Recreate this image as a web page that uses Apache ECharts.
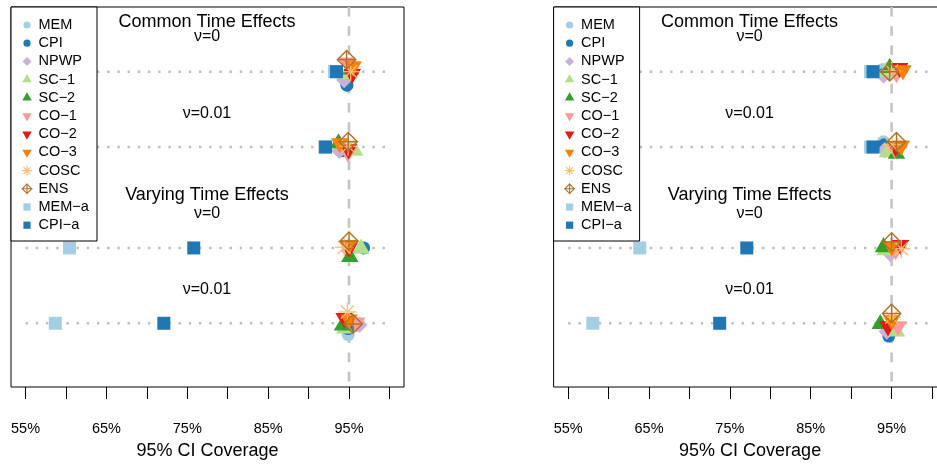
<!DOCTYPE html>
<html>
<head>
<meta charset="utf-8">
<script src="https://cdn.jsdelivr.net/npm/echarts@6/dist/echarts.min.js"></script>
<style>html,body{margin:0;padding:0;background:#fff}#c{width:937px;height:466px}</style>
</head>
<body>
<div id="c"></div>
<script>
// ---------------- data ----------------
const methods = ['MEM','CPI','NPWP','SC−1','SC−2','CO−1','CO−2','CO−3','COSC','ENS','MEM−a','CPI−a'];
const colors  = ['#A6CEE3','#1F78B4','#CAB2D6','#B2DF8A','#33A02C','#FB9A99','#E31A1C','#FF7F00','#FDBF6F','#B0702A','#A6CEE3','#1F78B4'];
const shapes  = ['circle','circle','diamond','triUp','triUp','triDown','triDown','triDown','asterisk','ens','square','square'];
const groupTitles = ['Common Time Effects','Varying Time Effects'];
const rowLabels = ['ν=0','ν=0.01','ν=0','ν=0.01'];
const rowPos = [1, 2, 3.34, 4.34];
const xTicks = [55,60,65,70,75,80,85,90,95,100];
const xLabels = [55,65,75,85,95];
const nominal = 95;

// coverage (%) per row, in method order
const leftCov1 = [94.7, 94.75, 94.4, 94.8, 95.2, 94.75, 95.4, 95.5, 95.2, 94.7, 93.2, 93.45];
const leftCov2 = [94.1, 94.1, 93.8, 95.7, 93.7, 94.85, 94.95, 93.85, 94.9, 94.9, 92.0, 92.1];
const leftCov3 = [96.8, 96.8, 95.0, 96.5, 95.1, 95.0, 95.0, 95.0, 94.4, 95.0, 60.44, 75.8];
const leftCov4 = [94.9, 94.9, 96.3, 94.5, 94.2, 95.95, 94.4, 95.0, 94.8, 95.5, 58.68, 72.1];
const rightCov1 = [93.9, 94.1, 94.0, 94.3, 94.77, 95.6, 96.0, 96.4, 95.0, 94.77, 92.4, 92.7];
const rightCov2 = [94.0, 94.1, 94.15, 94.5, 95.6, 95.4, 95.5, 96.2, 95.05, 95.6, 92.4, 92.7];
const rightCov3 = [94.9, 94.9, 94.85, 94.2, 94.0, 95.5, 96.1, 95.0, 96.2, 95.0, 63.86, 77.09];
const rightCov4 = [94.7, 94.65, 94.4, 95.6, 93.6, 95.8, 94.55, 95.0, 95.0, 95.0, 58.05, 73.74];

// vertical jitter of the points (row units)
const leftJit1 = [0.16, 0.18, 0.11, 0.03, -0.03, -0.12, 0.03, -0.07, 0, -0.16, 0, 0];
const leftJit2 = [0.04, 0.05, 0.05, 0.05, -0.05, 0.07, 0.03, -0.05, -0.01, -0.07, 0, 0];
const leftJit3 = [0, 0, 0.04, 0.01, 0.12, -0.01, 0, -0.04, -0.01, -0.09, 0, 0];
const leftJit4 = [0.15, 0.07, 0.02, 0.07, 0.03, -0.01, -0.07, -0.05, -0.15, 0.01, 0, 0];
const rightJit1 = [-0.03, 0.03, 0.05, 0, -0.05, 0.02, -0.05, -0.02, -0.01, 0, 0, 0];
const rightJit2 = [-0.07, -0.03, 0.04, 0.07, 0.09, 0.02, 0, -0.02, -0.03, -0.07, 0, 0];
const rightJit3 = [0.04, 0.05, 0.08, 0.03, -0.01, 0.03, -0.04, -0.02, 0.01, -0.08, 0, 0];
const rightJit4 = [0.13, 0.17, 0.11, 0.11, 0.01, 0.04, 0.04, -0.04, -0.08, -0.13, 0, 0];

// ---------------- layout / style ----------------
const FONT = '"Liberation Sans", Arial, Helvetica, sans-serif';
const GRID_TOP = 7, GRID_H = 380, GRID_W = 393;
const X_MIN = 53.2, X_MAX = 101.8;
const Y_MIN = 0.141, Y_MAX = 5.186;
const panels = [
  {left: 11, cov: [leftCov1, leftCov2, leftCov3, leftCov4], jit: [leftJit1, leftJit2, leftJit3, leftJit4]},
  {left: 553.6, cov: [rightCov1, rightCov2, rightCov3, rightCov4], jit: [rightJit1, rightJit2, rightJit3, rightJit4]}
];
const R = 6.5; // base marker radius in the plot

function glyph(shape, color, x, y) {
  const s = R;
  switch (shape) {
    case 'circle':
      return {type: 'circle', shape: {cx: x, cy: y, r: s}, style: {fill: color}};
    case 'square':
      return {type: 'rect', shape: {x: x - s, y: y - s, width: 2 * s, height: 2 * s}, style: {fill: color}};
    case 'diamond': {
      const d = 1.2533 * s;
      return {type: 'polygon', shape: {points: [[x, y - d], [x + d, y], [x, y + d], [x - d, y]]}, style: {fill: color}};
    }
    case 'triUp': {
      const r = 1.5551 * s, hb = 1.3468 * s, yc = 0.7776 * s;
      return {type: 'polygon', shape: {points: [[x, y - r], [x + hb, y + yc], [x - hb, y + yc]]}, style: {fill: color}};
    }
    case 'triDown': {
      const r = 1.5551 * s, hb = 1.3468 * s, yc = 0.7776 * s;
      return {type: 'polygon', shape: {points: [[x, y + r], [x + hb, y - yc], [x - hb, y - yc]]}, style: {fill: color}};
    }
    case 'asterisk': {
      const a = 1.4142 * s, b = s;
      const st = {stroke: color, lineWidth: 1.3};
      return {type: 'group', children: [
        {type: 'line', shape: {x1: x - a, y1: y, x2: x + a, y2: y}, style: st},
        {type: 'line', shape: {x1: x, y1: y - a, x2: x, y2: y + a}, style: st},
        {type: 'line', shape: {x1: x - b, y1: y - b, x2: x + b, y2: y + b}, style: st},
        {type: 'line', shape: {x1: x - b, y1: y + b, x2: x + b, y2: y - b}, style: st}
      ]};
    }
    case 'ens': {
      const a = 1.4142 * s;
      const st = {stroke: color, lineWidth: 1.4, fill: 'none'};
      return {type: 'group', children: [
        {type: 'polygon', shape: {points: [[x, y - a], [x + a, y], [x, y + a], [x - a, y]]}, style: st},
        {type: 'line', shape: {x1: x - a, y1: y, x2: x + a, y2: y}, style: st},
        {type: 'line', shape: {x1: x, y1: y - a, x2: x, y2: y + a}, style: st}
      ]};
    }
  }
}

// legend icons (12x12 box, corners fixed by moveTo)
const B = 'M0 0M12 12';
const legendIcons = {
  circle: 'path://' + B + 'M6 2.4A3.6 3.6 0 1 1 6 9.6A3.6 3.6 0 1 1 6 2.4Z',
  square: 'path://' + B + 'M2.4 2.4H9.6V9.6H2.4Z',
  diamond: 'path://' + B + 'M6 1.5L10.5 6L6 10.5L1.5 6Z',
  triUp: 'path://' + B + 'M6 0.56L10.71 8.72H1.29Z',
  triDown: 'path://' + B + 'M6 11.44L1.29 3.28H10.71Z',
  asterisk: 'path://' + B + 'M1.05 5.45H10.95V6.55H1.05Z M5.45 1.05H6.55V10.95H5.45Z M2.89 2.11L9.89 9.11L9.11 9.89L2.11 2.89Z M9.89 2.89L2.89 9.89L2.11 9.11L9.11 2.11Z',
  ens: 'path://' + B + 'M6 0.5L11.5 6L6 11.5L0.5 6Z M6 2.06L2.06 6L6 9.94L9.94 6Z M0.5 5.45H11.5V6.55H0.5Z M5.45 0.5H6.55V11.5H5.45Z'
};

// ---------------- option ----------------
const grids = [], xAxes = [], yAxes = [], series = [], legends = [], graphics = [];
panels.forEach((p, pi) => {
  grids.push({left: p.left, top: GRID_TOP, width: GRID_W, height: GRID_H, show: true,
    borderColor: '#000', borderWidth: 1, backgroundColor: 'transparent',
    containLabel: false, outerBoundsMode: 'none'});
  xAxes.push({
    gridIndex: pi, type: 'value', min: X_MIN, max: X_MAX,
    axisLine: {show: false}, splitLine: {show: false},
    axisTick: {show: true, inside: false, length: 12, lineStyle: {color: '#000', width: 1}, customValues: xTicks},
    axisLabel: {show: true, customValues: xLabels, formatter: v => v + '%', margin: 34,
      fontSize: 14.5, fontFamily: FONT, color: '#000'},
    name: '95% CI Coverage', nameLocation: 'middle', nameGap: 55,
    nameTextStyle: {fontSize: 18, fontFamily: FONT, color: '#000'}
  });
  yAxes.push({gridIndex: pi, type: 'value', min: Y_MIN, max: Y_MAX, inverse: true, show: false});

  // guides
  rowPos.forEach(y => {
    series.push({type: 'line', xAxisIndex: pi, yAxisIndex: pi, silent: true, symbol: 'none', z: 1,
      data: [[xTicks[0], y], [xTicks[xTicks.length - 1], y]],
      lineStyle: {color: '#BEBEBE', width: 2.4, type: [2.4, 7.8]}});
  });
  series.push({type: 'line', xAxisIndex: pi, yAxisIndex: pi, silent: true, symbol: 'none', z: 1,
    data: [[nominal, Y_MIN], [nominal, Y_MAX]],
    lineStyle: {color: '#C4C4C4', width: 2.6, type: [9.6, 9.6]}});

  // points
  methods.forEach((m, mi) => {
    const data = rowPos.map((y, ri) => [p.cov[ri][mi], y + p.jit[ri][mi]]);
    series.push({
      type: 'custom', name: m, xAxisIndex: pi, yAxisIndex: pi, z: 2 + mi * 0.01,
      coordinateSystem: 'cartesian2d', encode: {x: 0, y: 1},
      itemStyle: {color: colors[mi]}, silent: true,
      data: data,
      renderItem: (params, api) => {
        const pt = api.coord([api.value(0), api.value(1)]);
        return glyph(shapes[mi], colors[mi], pt[0], pt[1]);
      }
    });
  });

  legends.push({
    orient: 'vertical', left: p.left + 10, top: 15.9, padding: 0, itemGap: 0,
    itemWidth: 13, itemHeight: 12, selectedMode: false, z: 20,
    data: methods.map((m, mi) => ({name: m, icon: legendIcons[shapes[mi]],
      itemStyle: {color: colors[mi], borderWidth: 0}})),
    textStyle: {fontSize: 14.5, fontFamily: FONT, color: '#000', lineHeight: 18.2}
  });

  graphics.push({type: 'rect', z: 10, shape: {x: p.left, y: GRID_TOP, width: 86, height: 234},
    style: {fill: '#fff', stroke: '#000', lineWidth: 1}});

  const cx = p.left + 196;
  const texts = [
    [groupTitles[0], 21.7, 18], [rowLabels[0], 36.8, 16], [rowLabels[1], 113.3, 16],
    [groupTitles[1], 195, 18], [rowLabels[2], 213.3, 16], [rowLabels[3], 290, 16]
  ];
  texts.forEach(t => {
    graphics.push({type: 'text', z: 10, x: cx, y: t[1],
      style: {text: t[0], fill: '#000', fontSize: t[2], fontFamily: FONT,
        align: 'center', verticalAlign: 'middle', textAlign: 'center', textVerticalAlign: 'middle'}});
  });
});

const chart = echarts.init(document.getElementById('c'), null, {renderer: 'canvas', width: 937, height: 466});
chart.setOption({
  animation: false,
  backgroundColor: '#fff',
  grid: grids, xAxis: xAxes, yAxis: yAxes,
  legend: legends, series: series, graphic: graphics
});
</script>
</body>
</html>
